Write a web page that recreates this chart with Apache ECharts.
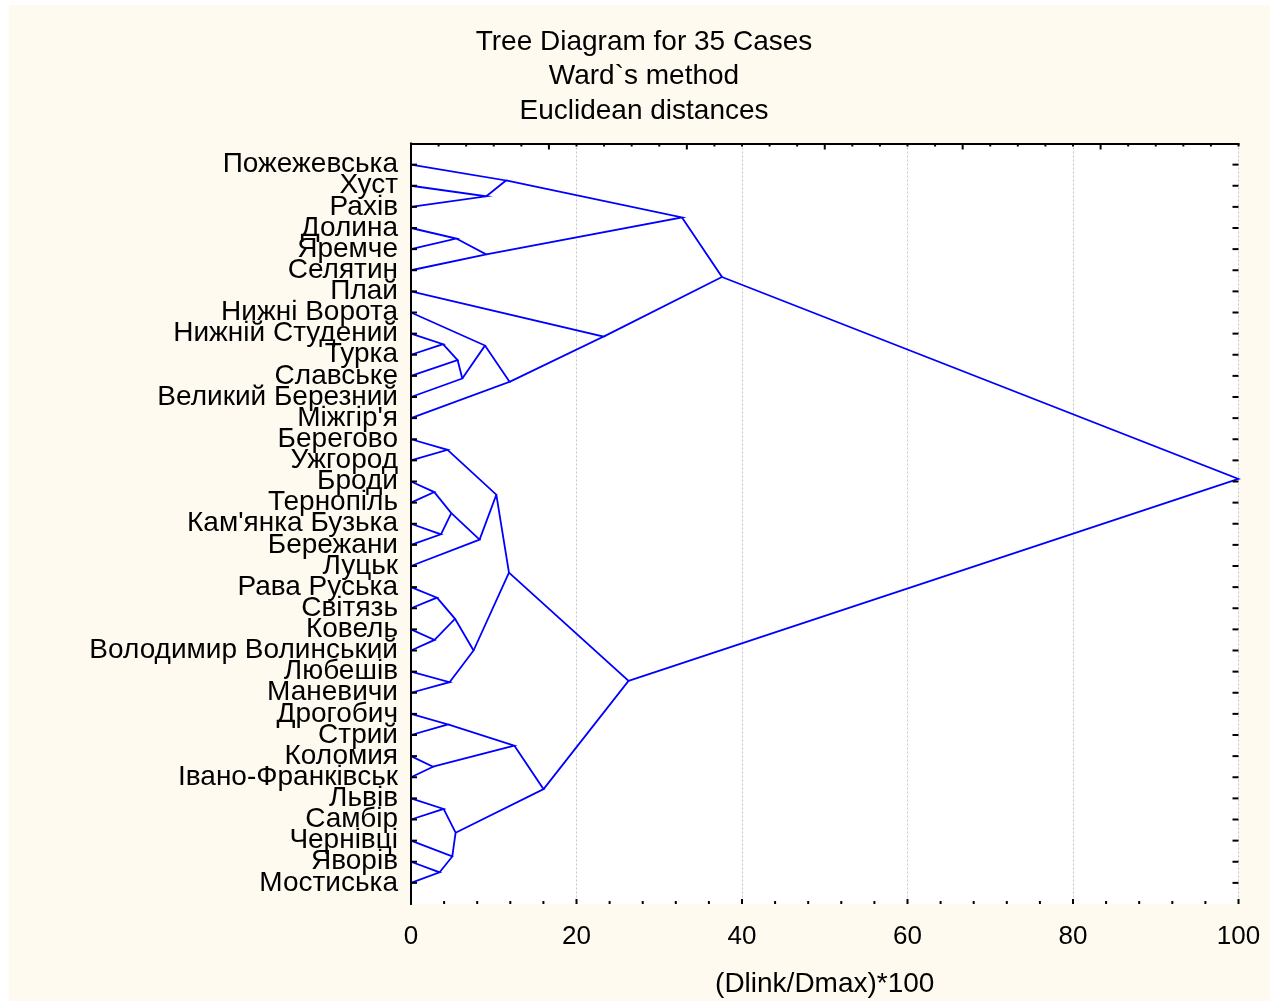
<!DOCTYPE html>
<html>
<head>
<meta charset="utf-8">
<script src="https://cdn.jsdelivr.net/npm/echarts@6/dist/echarts.min.js"></script>
<style>
  body { margin: 0; background: #fff; }
  #bg { position: absolute; left: 9px; top: 5px; width: 1261px; height: 996px; background: #fffaf0; }
  #chart { position: absolute; left: 0; top: 0; width: 1270px; height: 1002px; }
</style>
</head>
<body>
<div id="bg"></div>
<div id="chart"></div>
<script>
// назви випадків (зверху вниз)
const names = [
  'Пожежевська', 'Хуст', 'Рахів', 'Долина', 'Яремче', 'Селятин', 'Плай',
  'Нижні Ворота', 'Нижній Студений', 'Турка', 'Славське', 'Великий Березний',
  "Міжгір'я", 'Берегово', 'Ужгород', 'Броди', 'Тернопіль', "Кам'янка Бузька",
  'Бережани', 'Луцьк', 'Рава Руська', 'Світязь', 'Ковель', 'Володимир Волинський',
  'Любешів', 'Маневичи', 'Дрогобич', 'Стрий', 'Коломия', 'Івано-Франківськ',
  'Львів', 'Самбір', 'Чернівці', 'Яворів', 'Мостиська'
];

// об'єднання: вузол 35 + k = (mergeA[k], mergeB[k]) на відстані mergeHeight[k]
const mergeA = [1, 0, 3, 37, 36, 8, 40, 41, 7, 43, 6, 39, 13, 15, 17, 48, 50, 47, 20, 22, 53, 24, 55, 52, 26, 28, 59, 30, 33, 32, 62, 61, 58, 46];
const mergeB = [2, 35, 4, 5, 38, 9, 10, 11, 42, 12, 44, 45, 14, 16, 18, 49, 19, 51, 21, 23, 54, 25, 56, 57, 27, 29, 60, 31, 34, 63, 64, 65, 66, 67];
const mergeHeight = [9.1, 11.48, 5.47, 9.1, 32.75, 3.87, 5.63, 6.2, 8.94, 11.91, 23.27, 37.58,
  4.42, 2.82, 3.62, 4.87, 8.29, 10.31, 3.14, 2.85, 5.32, 4.66, 7.56, 11.84,
  4.47, 2.66, 12.48, 3.94, 3.46, 4.99, 5.39, 16.02, 26.29, 100];

// підписи і засічки осей
const xLabels = [0, 20, 40, 60, 80, 100];
const bottomTicks = [0, 4, 8, 12, 16, 20, 24, 28, 32, 36, 40, 44, 48, 52, 56, 60, 64, 68, 72, 76, 80, 84, 88, 92, 96, 100];
const topTicks = [0, 3.333, 6.667, 10, 13.333, 16.667, 20, 23.333, 26.667, 30, 33.333, 36.667, 40, 43.333, 46.667, 50,
  53.333, 56.667, 60, 63.333, 66.667, 70, 73.333, 76.667, 80, 83.333, 86.667, 90, 93.333, 96.667, 100];
const topMajor = [16.667, 33.333, 50, 66.667, 83.333];

// координати вузлів
let nodeX = names.map(() => 0);
let nodeY = names.map((n, i) => i + 1);
let links = [];
mergeA.forEach((a, k) => {
  let b = mergeB[k];
  nodeX.push(mergeHeight[k]);
  nodeY.push((nodeY[a] + nodeY[b]) / 2);
  let id = nodeX.length - 1;
  links.push({
    coords: [[nodeX[a], nodeY[a]], [nodeX[id], nodeY[id]], [nodeX[b], nodeY[b]]]
  });
});

// засічки всередину: [x, y, dx, dy] — точка на осі і напрямок у пікселях
let ticks = [];
bottomTicks.forEach(v => ticks.push([v, 36, 0, xLabels.indexOf(v) >= 0 ? -5 : -3]));
topTicks.forEach(v => ticks.push([v, 0, 0, topMajor.indexOf(v) >= 0 ? 6 : 3]));
names.forEach((n, i) => {
  ticks.push([0, i + 1, 6, 0]);
  ticks.push([100, i + 1, -6, 0]);
});

const font = 'Liberation Sans, Arial, sans-serif';
const axisLine = { show: true, lineStyle: { color: '#000', width: 2 } };

let chart = echarts.init(document.getElementById('chart'), null, { renderer: 'canvas' });
chart.setOption({
  backgroundColor: 'transparent',
  animation: false,
  title: {
    text: 'Tree Diagram for 35 Cases\nWard`s method\nEuclidean distances',
    left: 639,
    top: 20,
    textAlign: 'center',
    textStyle: { fontFamily: font, fontSize: 28, fontWeight: 'normal', color: '#000', lineHeight: 34.5 }
  },
  grid: {
    left: 411, top: 143.5, width: 827.5, height: 760.5,
    show: true, backgroundColor: '#fff', borderWidth: 0,
    outerBoundsMode: 'none'
  },
  xAxis: [
    {
      type: 'value', position: 'bottom', min: 0, max: 100, interval: 20,
      name: '(Dlink/Dmax)*100', nameLocation: 'middle', nameGap: 66,
      nameTextStyle: { fontFamily: font, fontSize: 28, color: '#000' },
      axisLine: axisLine,
      axisTick: { show: false },
      axisLabel: { fontFamily: font, fontSize: 26, color: '#000', margin: 20 },
      splitLine: { show: true, lineStyle: { color: '#c8c8c8', type: [2, 2], width: 1 } }
    },
    {
      type: 'value', position: 'top', min: 0, max: 100,
      axisLine: axisLine, axisTick: { show: false },
      axisLabel: { show: false }, splitLine: { show: false }
    }
  ],
  yAxis: [
    {
      type: 'value', position: 'left', inverse: true, min: 0, max: 36, interval: 1,
      axisLine: axisLine,
      axisTick: { show: false },
      axisLabel: {
        fontFamily: font, fontSize: 28, color: '#000', margin: 13, hideOverlap: false,
        padding: [6, 0, 0, 0],
        formatter: v => (v >= 1 && v <= names.length ? names[v - 1] : '')
      },
      splitLine: { show: false }
    },
    {
      type: 'value', position: 'right', inverse: true, min: 0, max: 36,
      axisLine: axisLine, axisTick: { show: false },
      axisLabel: { show: false }, splitLine: { show: false }
    }
  ],
  series: [
    {
      type: 'lines',
      coordinateSystem: 'cartesian2d',
      xAxisIndex: 0,
      yAxisIndex: 0,
      polyline: true,
      silent: true,
      lineStyle: { color: '#0000ff', width: 1.8, opacity: 1 },
      data: links
    },
    {
      type: 'custom',
      coordinateSystem: 'cartesian2d',
      xAxisIndex: 0,
      yAxisIndex: 0,
      silent: true,
      z: 5,
      data: ticks,
      renderItem: (params, api) => {
        let p = api.coord([api.value(0), api.value(1)]);
        return {
          type: 'line',
          shape: { x1: p[0], y1: p[1], x2: p[0] + api.value(2), y2: p[1] + api.value(3) },
          style: { stroke: '#000', lineWidth: 2 }
        };
      }
    }
  ]
});
</script>
</body>
</html>
